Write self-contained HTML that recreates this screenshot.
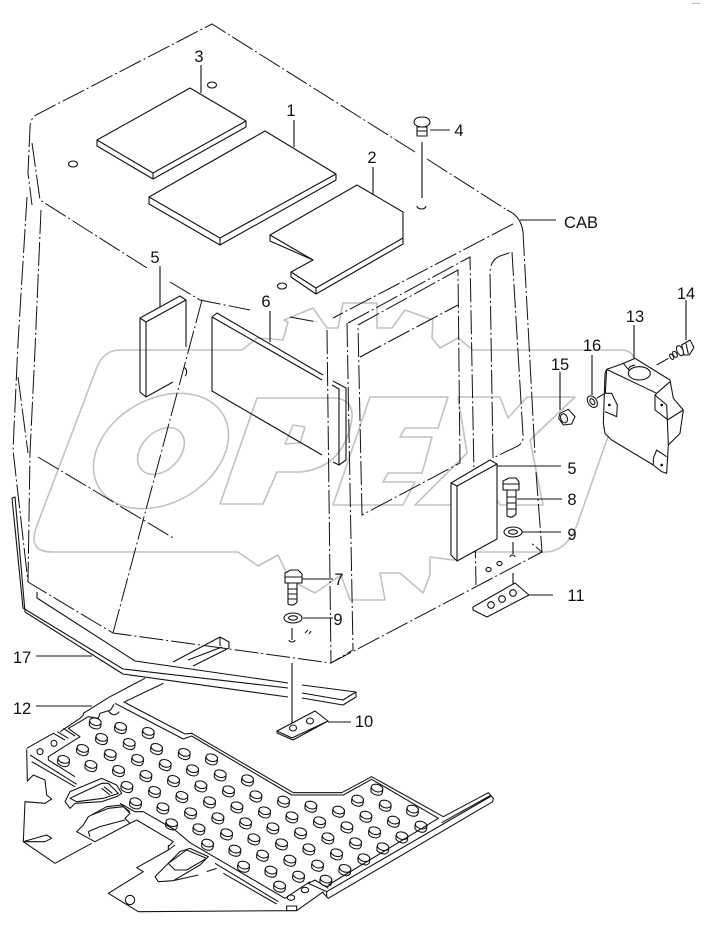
<!DOCTYPE html>
<html><head><meta charset="utf-8"><style>
html,body{margin:0;padding:0;background:#fff}
svg{display:block}
text{font-family:"Liberation Sans",sans-serif;font-size:16.5px;fill:#111;text-anchor:middle}
.w{fill:none;stroke:#c2c2c2;stroke-width:1.6;stroke-linejoin:round}
.l{fill:none;stroke:#111;stroke-width:1.1;stroke-linejoin:round}
.f{fill:#fff;stroke:#111;stroke-width:1.1;stroke-linejoin:round}
.d{fill:none;stroke:#111;stroke-width:1;stroke-dasharray:24 3 2 3}
.z{fill:none;stroke:#111;stroke-width:3.2;stroke-linejoin:round}
.zf{fill:#fff;stroke:#111;stroke-width:3.2;stroke-linejoin:round}
</style></head><body>
<svg width="706" height="934" viewBox="0 0 706 934" xmlns="http://www.w3.org/2000/svg">
<rect width="706" height="934" fill="#fff"/>
<rect x="692" y="3" width="8" height="1" fill="#bbb"/>

<!-- watermark -->
<path class="w" d="M120,350 L242,350 L257,338 L283,340 L288,322 L284,320 L313,308 L327,328 L338,328 L343,303 L377,303 L377,328 L392,328 L405,310 L433,320 L432,338 L440,348 L458,338 L473,350 L623,350 Q638,352 632,368 L577,525 Q566,552 545,552 L473,552 L453,560 L430,557 L430,575 L423,593 L400,573 L380,573 L385,600 L350,600 L341,575 L315,593 L290,580 L278,555 L258,566 L238,552 L52,552 Q28,552 36,528 L97,367 Q104,350 120,350 Z"/>
<ellipse class="w" cx="0" cy="0" rx="72" ry="52" transform="translate(161,451) rotate(-30)"/>
<ellipse class="w" cx="0" cy="0" rx="27" ry="19" transform="translate(161,451) rotate(-45)"/>
<path class="w" d="M257,398 L335,398 Q358,400 350,428 Q340,468 300,472 L277,472 L263,504 L220,504 Z"/>
<path class="w" d="M285,444 L293,425 L305,427 L300,443 Z"/>
<path class="w" d="M370,397 L448,397 L438,428 L405,428 L400,437 L432,437 L422,473 L388,473 L383,482 L415,482 L403,505 L333,505 Z"/>
<path class="w" d="M458,397 L500,397 L508,418 L527,397 L575,397 L530,440 L543,505 L500,505 L485,478 L463,505 L415,505 L467,453 Z"/>

<!-- cab dash-dot -->
<path class="d" d="M415,152 L212,24 L36,115 Q30,119 30,128 L28,173 L32,205"/>
<path class="d" d="M32,143 L40,200 L147,268"/>
<path class="d" d="M170,282 L200,300 L250,310"/>
<path class="d" d="M427,159 L507,210"/>
<path class="l" d="M507,210 Q521,216 523,232"/>
<path class="d" d="M523,232 L535,455"/>
<path class="d" d="M536,472 L542,552 L530,542"/>
<path class="d" d="M513,224 L333,318"/>
<path class="d" d="M290,317 L317,322"/>
<path class="d" d="M27,197 L18,343 L13,450 L28,582 L113,633 L331,663 L542,552"/>
<path class="d" d="M41,210 L35,350 L30,453 L28,582"/>
<path class="d" d="M18,377 L28,453"/>
<path class="d" d="M38,457 L175,539"/>
<path class="d" d="M202,300 L113,633"/>
<path class="d" d="M327,330 L331,663 L353,650"/>
<path class="d" d="M348,323 L470,257 L476,585"/>
<path class="d" d="M347,323 L353,650"/>
<path class="d" d="M358,325 L458,270 L460,463 L362,515 L358,325"/>
<path class="d" d="M360,357 L458,305"/>
<path class="d" d="M512,252 L523,435 Q524,442 518,446 L493,458 L490,273 Q490,260 500,256 L512,252"/>

<!-- roof holes -->
<ellipse class="l" cx="212" cy="85" rx="4.5" ry="3"/>
<ellipse class="l" cx="73" cy="164" rx="4.5" ry="3"/>
<ellipse class="l" cx="282" cy="286" rx="4.5" ry="3"/>
<path class="l" d="M417,206 A4.5,3 0 1 0 426,206"/>

<!-- plates -->
<path class="f" d="M97,140 L190,88 L246,121 L246,127 L153,179 L97,146 Z M97,140 L153,173 L246,121 M153,173 L153,179"/>
<path class="f" d="M149,197 L265,131 L336,174 L336,180 L220,245 L149,204 Z M149,197 L220,238 L336,174 M220,238 L220,245"/>
<path class="f" d="M270,235 L357,185 L403,212 L403,244 L316,294 L291,277 L291,272 L313,260 L270,241 Z"/>
<path class="l" d="M270,235 L313,260 M291,272 L316,288 L403,238 M316,288 L316,294"/>

<!-- block 5 left -->
<path class="l" d="M140,318 L180,296 L186,300 L146,322 Z M140,318 L140,392 L146,397 L146,322 M146,397 L173,382 M186,300 L186,347"/>
<path class="l" d="M184,368 A2,4 0 0 1 185,376"/>
<!-- block 6 -->
<path class="l" d="M212,317 L217,313 L323,375 M333,381 L346,388 L346,460 L339,465 L333,462 M212,317 L322,380 M332,385 L339,389 L339,465 M212,317 L212,391 L322,455"/>
<!-- block 5 right -->
<path class="f" d="M451,483 L490,460 L497,464 L497,539 L457,561 L451,555 Z"/>
<path class="l" d="M451,483 L457,486 L497,464 M457,486 L457,561"/>

<!-- strip 17 -->
<path class="l" d="M12,498 L15,497 L25,612 M12,498 L23,608 L123,669 L288,688 M25,612 L123,674 L288,697 M37,592 L37,598 L135,661 L288,683 M302,685 L356,692 L356,697 L343,705 L302,698 M302,693 L343,700 L356,692"/>
<path class="l" d="M173,662 L220,637 L229,642 L229,648 L193,666 M188,660 L222,647 M220,637 L220,646"/>

<!-- leaders -->
<path class="l" d="M201,65V93 M294,120V147 M373,167V195 M160,266V307 M270,311V342 M422,142V198 M430,130H450 M520,220H556 M497,466H561 M517,499H562 M522,532H561 M513,542V554 M513,573V590 M529,595H553 M634,325V358 M686,300V340 M592,355V395 M560,372V410 M302,579H333 M303,618H333 M292,628V640 M292,663V727 M328,722H351 M36,656H92 M36,706H92"/>

<!-- fastener 4 -->
<path class="f" d="M414,123 Q414,117 422,117 Q430,117 430,123 Q428,127 422,127 Q416,127 414,123Z"/>
<path class="f" d="M417,127 H427 V136 H417 Z M417,131 H427"/>

<!-- bolt 8 -->
<path class="f" d="M503,481 L509,478 L516,478 L519,482 L519,490 L503,490 Z M503,484 L519,484"/>
<path class="f" d="M507,490 H516 V514 Q512,519 507,516 Z M507,497 H516 M507,503 H516 M507,509 H516"/>
<ellipse class="f" cx="513" cy="532" rx="9" ry="5"/><ellipse class="f" cx="513" cy="532" rx="4.5" ry="2.2"/>
<path class="l" d="M510,557 A2.5,2 0 1 1 515,557 M497,563 A2.5,2 0 1 1 502,564 A2.5,2 0 1 1 497,563 M486,569 A2.5,2 0 1 1 491,570 A2.5,2 0 1 1 486,569"/>
<!-- plate 11 -->
<path class="f" d="M473,607 L515,583 L529,595 L487,617 L473,610 Z"/>
<circle class="l" cx="491" cy="605" r="3.3"/><circle class="l" cx="502" cy="599" r="3.3"/><circle class="l" cx="513" cy="593" r="3.3"/>

<!-- bolt 7 -->
<path class="f" d="M285,573 L291,570 L298,570 L302,574 L302,583 L285,583 Z M285,577 L302,577"/>
<path class="f" d="M288,583 H297 V602 Q293,607 288,604 Z M288,589 H297 M288,594 H297 M288,599 H297"/>
<ellipse class="f" cx="293" cy="618" rx="9" ry="5"/><ellipse class="f" cx="293" cy="618" rx="4.5" ry="2.2"/>
<path class="l" d="M289,640 A3,2 0 0 0 295,640 M305,633 L308,630 M309,634 L311,631"/>
<!-- plate 10 -->
<path class="f" d="M277,731 L315,711 L328,721 L293,740 L277,733 Z M277,731 L292,738 L328,721"/>
<ellipse class="l" cx="293" cy="728" rx="3.5" ry="3"/><ellipse class="l" cx="310" cy="721" rx="3.5" ry="3"/>

<!-- right-side parts -->
<g transform="translate(330,210) scale(0.33333)">
<path class="zf" d="M825,490 L830,478 L880,460 L915,445 L1020,510 L1030,565 L1060,600 L1050,670 L1015,705 L1010,790 L995,785 L970,765 L845,690 L825,670 L820,640 Z"/>
<path class="z" d="M830,478 L980,550 L1020,515 M880,460 L905,490 M1012,630 L1060,600 M1012,628 L1015,705 M825,550 L845,550 L862,585 L860,620 L825,605 M975,555 L1010,585 L1012,628 L975,600 Z M970,745 L980,720 L1010,740 M970,745 L970,765 M830,478 L826,550 M980,550 L975,555"/>
<ellipse class="zf" cx="928" cy="490" rx="33" ry="20"/>
<path class="z" d="M895,478 Q900,466 915,466"/>
<circle cx="838" cy="585" r="4" fill="#111"/><circle cx="995" cy="585" r="4" fill="#111"/><circle cx="995" cy="765" r="4" fill="#111"/>
<path class="z" d="M980,465 L1015,445 M800,565 L825,550"/>
<ellipse class="zf" cx="1025" cy="440" rx="5" ry="9" transform="rotate(-30 1025 440)"/>
<ellipse class="zf" cx="1035" cy="433" rx="6" ry="10" transform="rotate(-30 1035 433)"/>
<path class="zf" d="M1055,405 L1080,390 L1092,412 L1078,435 L1062,435 Z M1068,400 L1075,432"/>
<ellipse class="zf" cx="1050" cy="422" rx="9" ry="16" transform="rotate(-25 1050 422)"/>
<ellipse class="zf" cx="787" cy="575" rx="13" ry="19" transform="rotate(-35 787 575)"/>
<ellipse class="z" cx="787" cy="575" rx="6" ry="10" transform="rotate(-35 787 575)"/>
<path class="zf" d="M690,610 L715,598 L735,620 L725,642 L700,645 L686,625 Z"/>
<ellipse class="z" cx="702" cy="625" rx="10" ry="14" transform="rotate(-20 702 625)"/>
</g>

<!-- floor mat -->
<g transform="translate(0,640) scale(0.33333)">
<defs><g id="p"><path d="M-17,-5 V6 Q-10,16 6,17 Q17,16 18,5 V-5 Z" fill="#fff" stroke="#111" stroke-width="3.2"/><ellipse cx="0" cy="-5" rx="17.5" ry="11" transform="rotate(15)" fill="#fff" stroke="#111" stroke-width="3.2"/></g></defs>
<use href="#p" x="190" y="363"/><use href="#p" x="272" y="378"/><use href="#p" x="355" y="393"/><use href="#p" x="437" y="408"/><use href="#p" x="520" y="423"/><use href="#p" x="602" y="439"/><use href="#p" x="685" y="454"/><use href="#p" x="767" y="469"/><use href="#p" x="850" y="485"/><use href="#p" x="932" y="500"/><use href="#p" x="1015" y="515"/><use href="#p" x="1097" y="530"/><use href="#p" x="1180" y="545"/><use href="#p" x="1262" y="560"/>
<use href="#p" x="247" y="330"/><use href="#p" x="330" y="345"/><use href="#p" x="412" y="360"/><use href="#p" x="495" y="375"/><use href="#p" x="577" y="391"/><use href="#p" x="660" y="406"/><use href="#p" x="742" y="421"/><use href="#p" x="1072" y="482"/><use href="#p" x="1155" y="497"/><use href="#p" x="1237" y="512"/>
<use href="#p" x="304" y="297"/><use href="#p" x="387" y="312"/><use href="#p" x="469" y="327"/><use href="#p" x="552" y="342"/><use href="#p" x="634" y="358"/><use href="#p" x="1130" y="449"/>
<use href="#p" x="361" y="264"/><use href="#p" x="444" y="279"/><use href="#p" x="285" y="250"/>
<use href="#p" x="380" y="441"/><use href="#p" x="463" y="456"/><use href="#p" x="545" y="471"/><use href="#p" x="628" y="487"/><use href="#p" x="710" y="502"/><use href="#p" x="793" y="517"/><use href="#p" x="875" y="532"/><use href="#p" x="958" y="547"/><use href="#p" x="1040" y="562"/><use href="#p" x="1123" y="577"/><use href="#p" x="1205" y="592"/>
<use href="#p" x="406" y="490"/><use href="#p" x="488" y="505"/><use href="#p" x="571" y="520"/><use href="#p" x="653" y="535"/><use href="#p" x="736" y="550"/><use href="#p" x="818" y="565"/><use href="#p" x="901" y="580"/><use href="#p" x="983" y="595"/><use href="#p" x="1066" y="610"/><use href="#p" x="1148" y="625"/>
<use href="#p" x="514" y="553"/><use href="#p" x="596" y="568"/><use href="#p" x="679" y="583"/><use href="#p" x="761" y="598"/><use href="#p" x="844" y="613"/><use href="#p" x="926" y="628"/><use href="#p" x="1009" y="643"/><use href="#p" x="1091" y="658"/>
<use href="#p" x="622" y="614"/><use href="#p" x="704" y="632"/><use href="#p" x="787" y="647"/><use href="#p" x="869" y="662"/><use href="#p" x="952" y="677"/><use href="#p" x="1034" y="690"/>
<use href="#p" x="730" y="680"/><use href="#p" x="812" y="695"/><use href="#p" x="895" y="710"/><use href="#p" x="977" y="722"/>
<use href="#p" x="838" y="740"/>
<!-- outer left contour -->
<path class="z" d="M80,325 L160,280 L195,300 M80,328 L82,423 L100,405 L135,420 L140,465 L155,477 L135,490 L75,485 L70,605 L140,585 L155,595 L135,605 L70,605 L165,670 L275,610"/>
<!-- top frame -->
<path class="z" d="M180,275 L240,235 L250,225 L250,220 L330,170 L435,115 M375,185 L490,130"/>
<path class="z" d="M370,185 L555,282 L575,280 L880,458 L1025,458 L1115,410 L1330,530 L1465,458 L1480,475 L1478,485 L985,775 L968,757"/>
<path class="z" d="M345,190 L550,297 L575,288 L875,465 L1030,465 L1115,418 L1315,535 L985,735"/>
<path class="z" d="M1325,548 L1472,466 M1474,468 L980,755 L925,730 L945,720 L985,745 M980,755 L980,772"/>
<path class="z" d="M342,193 L332,210 L300,220 L295,235 L265,230 L240,245 L205,265 L225,280 L240,290 L145,350 L145,360"/>
<path class="z" d="M190,265 L225,288 M172,275 L205,295"/>
<path class="z" d="M325,212 Q340,235 358,215"/>
<!-- inner frame left -->
<path class="z" d="M90,345 L230,433 M95,365 L225,440 M145,360 L225,410"/>
<path class="z" d="M360,490 L405,515 L430,515 L525,570 L570,608 L855,775 L930,725"/>
<path class="z" d="M390,550 L410,540 L520,605 L505,620 M645,670 L835,785 M670,700 L830,792"/>
<!-- bottom outline -->
<path class="z" d="M505,630 L410,683 L430,695 L325,760 L415,815 L860,812 M860,798 H890 V812 H860 Z M890,812 L970,755 M505,615 L505,630 L525,615"/>
<!-- cutouts -->
<path class="zf" d="M195,485 L210,455 L305,415 L350,435 L365,460 L350,470 L305,485 L225,490 L210,505 Z"/>
<path class="z" d="M220,470 L305,430 L325,430 L355,460 L310,475 L230,485 L210,475 Z M305,445 L330,465 M312,440 L337,460"/>
<path class="zf" d="M230,575 L250,555 L265,530 L320,500 L365,495 L390,520 L375,535 L390,550 L285,605 Z"/>
<path class="z" d="M265,575 L300,560 L375,540 M265,575 L270,590 M275,525 L325,505 L370,500 L390,515"/>
<path class="zf" d="M465,710 L540,635 L570,625 L625,650 L600,675 L520,722 L475,725 Z"/>
<path class="zf" d="M505,670 L560,630 L620,655 L560,690 L525,690 Z"/>
<path class="z" d="M520,722 L595,705 M620,695 L650,685"/>
<circle class="z" cx="120" cy="335" r="9"/><circle class="z" cx="162" cy="310" r="9"/><circle class="z" cx="390" cy="780" r="14"/><ellipse class="z" cx="915" cy="750" rx="11" ry="8"/><ellipse class="z" cx="873" cy="773" rx="11" ry="8"/>
</g>

<!-- labels -->
<text x="199" y="62">3</text><text x="291" y="116">1</text><text x="372" y="163">2</text>
<text x="459" y="136">4</text><text x="155" y="263">5</text><text x="266" y="307">6</text>
<text x="581" y="228">CAB</text>
<text x="686" y="299">14</text><text x="635" y="322">13</text><text x="592" y="351">16</text><text x="560" y="370">15</text>
<text x="572" y="474">5</text><text x="572" y="505">8</text><text x="572" y="540">9</text><text x="576" y="601">11</text>
<text x="339" y="585">7</text><text x="338" y="625">9</text><text x="364" y="727">10</text>
<text x="22" y="663">17</text><text x="22" y="714">12</text>
</svg>
</body></html>
